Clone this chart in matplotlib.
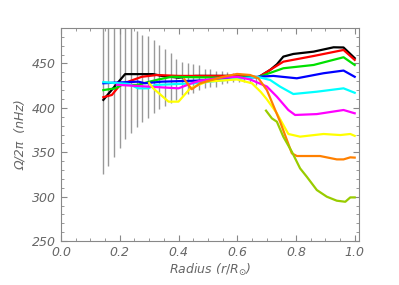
import matplotlib
matplotlib.use("Agg")
import matplotlib.pyplot as plt
from matplotlib.ticker import MultipleLocator, FormatStrFormatter

# error bars (gray), centre and half width in nHz
r_err = [0.142, 0.161, 0.180, 0.200, 0.219, 0.238, 0.258, 0.277, 0.296, 0.315,
         0.335, 0.354, 0.373, 0.393, 0.412, 0.431, 0.450, 0.470, 0.489, 0.508,
         0.528, 0.547, 0.566, 0.586, 0.605, 0.624, 0.643, 0.663]
c_err = [430, 430, 431, 431, 432, 432, 433, 433, 435, 435,
         435, 434, 434, 432, 433, 433, 433, 434, 433, 434,
         433, 434, 434, 434, 434, 433, 432, 431]
e_err = [104, 95, 86, 76, 67, 60, 54, 49, 46, 41,
         36, 32, 28, 23, 19, 17, 16, 14, 11, 10,
         9, 7, 6, 5, 5, 4, 4, 5]

# rotation profiles, one per latitude
r_black = [0.144, 0.218, 0.313, 0.343, 0.40, 0.457, 0.55, 0.60, 0.672, 0.712, 0.735, 0.757, 0.791, 0.86, 0.928, 0.962, 1.0]
w_black = [409, 438, 438, 436, 434, 436, 436, 436, 434.5, 442.7, 449, 457.7, 460.7, 463.3, 468.2, 468, 456]

r_red = [0.144, 0.173, 0.201, 0.229, 0.275, 0.326, 0.40, 0.5, 0.6, 0.672, 0.757, 0.86, 0.962, 1.0]
w_red = [412, 414.5, 425.8, 429.5, 435, 437, 436, 436, 436, 434.5, 452, 458.4, 465.2, 454]

r_green = [0.144, 0.184, 0.207, 0.258, 0.332, 0.377, 0.457, 0.55, 0.6, 0.672, 0.757, 0.86, 0.962, 1.0]
w_green = [420, 422, 425.8, 425.8, 432, 435, 434.5, 434, 435, 434.7, 444.6, 448.3, 457, 448.3]

r_blue = [0.144, 0.184, 0.263, 0.286, 0.343, 0.457, 0.55, 0.6, 0.672, 0.723, 0.803, 0.894, 0.962, 1.0]
w_blue = [427.7, 428.4, 429.5, 427.7, 429.5, 430.6, 432, 433, 435, 436, 433.3, 439, 442, 435]

r_cyan = [0.144, 0.229, 0.263, 0.297, 0.320, 0.457, 0.55, 0.6, 0.672, 0.712, 0.746, 0.791, 0.871, 0.962, 1.0]
w_cyan = [429, 427, 422, 422, 425.8, 427.7, 431, 433, 434.7, 431.4, 423.9, 415.6, 418.2, 422, 417]

r_magenta = [0.19, 0.40, 0.445, 0.474, 0.55, 0.6, 0.644, 0.701, 0.735, 0.774, 0.797, 0.871, 0.962, 1.0]
w_magenta = [426, 422, 427.7, 430.6, 434, 435, 432, 424, 412.6, 397.6, 392, 393, 397.6, 393.9]

r_yellow = [0.30, 0.314, 0.366, 0.40, 0.44, 0.496, 0.599, 0.650, 0.68, 0.70, 0.735, 0.774, 0.814, 0.894, 0.951, 0.985, 1.0]
w_yellow = [428, 422, 407, 407, 422, 429.5, 432, 427.7, 418, 410, 393.9, 370.6, 367.6, 370.6, 369.4, 370.6, 368.5]

r_orange = [0.42, 0.445, 0.474, 0.553, 0.599, 0.644, 0.672, 0.701, 0.746, 0.786, 0.803, 0.882, 0.939, 0.962, 0.985, 1.0]
w_orange = [432, 421, 427.7, 435, 438.2, 437, 433.3, 420, 384.4, 348.8, 345.8, 345.8, 342, 342, 344.3, 344]

r_yg = [0.698, 0.718, 0.735, 0.757, 0.786, 0.814, 0.837, 0.871, 0.905, 0.939, 0.968, 0.985, 1.0]
w_yg = [396.9, 388.2, 384.4, 367.5, 350.6, 331.9, 322.4, 307.5, 300, 295.5, 294.3, 299.2, 299.2]

fig = plt.figure(figsize=(3.99, 2.85), dpi=100)
ax = fig.add_axes([0.153, 0.154, 0.747, 0.748])

lo = [c - e for c, e in zip(c_err, e_err)]
hi = [c + e for c, e in zip(c_err, e_err)]
ax.vlines(r_err, lo, hi, color='#999999', lw=1.0, zorder=1)

lw = 1.6
ax.plot(r_black, w_black, color='black', lw=lw)
ax.plot(r_red, w_red, color='#ff0000', lw=lw)
ax.plot(r_green, w_green, color='#00e000', lw=lw)
ax.plot(r_blue, w_blue, color='#0000ff', lw=lw)
ax.plot(r_cyan, w_cyan, color='#00ffff', lw=lw)
ax.plot(r_magenta, w_magenta, color='#ff00ff', lw=lw)
ax.plot(r_yellow, w_yellow, color='#ffff00', lw=lw)
ax.plot(r_orange, w_orange, color='#ff8000', lw=lw)
ax.plot(r_yg, w_yg, color='#99cc00', lw=lw)

ax.set_xlim(0, 1.015)
ax.set_ylim(250, 490)
ax.xaxis.set_major_locator(MultipleLocator(0.2))
ax.xaxis.set_minor_locator(MultipleLocator(0.05))
ax.yaxis.set_major_locator(MultipleLocator(50))
ax.yaxis.set_minor_locator(MultipleLocator(10))
ax.xaxis.set_major_formatter(FormatStrFormatter('%.1f'))

gray = '#666666'
for s in ax.spines.values():
    s.set_color('#888888')
    s.set_linewidth(0.8)
ax.tick_params(which='both', direction='in', top=True, right=True, colors='#888888',
               labelcolor=gray, labelsize=9)
ax.tick_params(which='major', length=4)
ax.tick_params(which='minor', length=2.2)
for lab in ax.get_xticklabels() + ax.get_yticklabels():
    lab.set_style('italic')

ax.set_xlabel(r'Radius ($r/R_{\odot}$)', color=gray, fontsize=9, style='italic', labelpad=2)
ax.set_ylabel('Ω/2π  (nHz)', color=gray, fontsize=9, style='italic', labelpad=4)

fig.savefig('out.png', dpi=100)
